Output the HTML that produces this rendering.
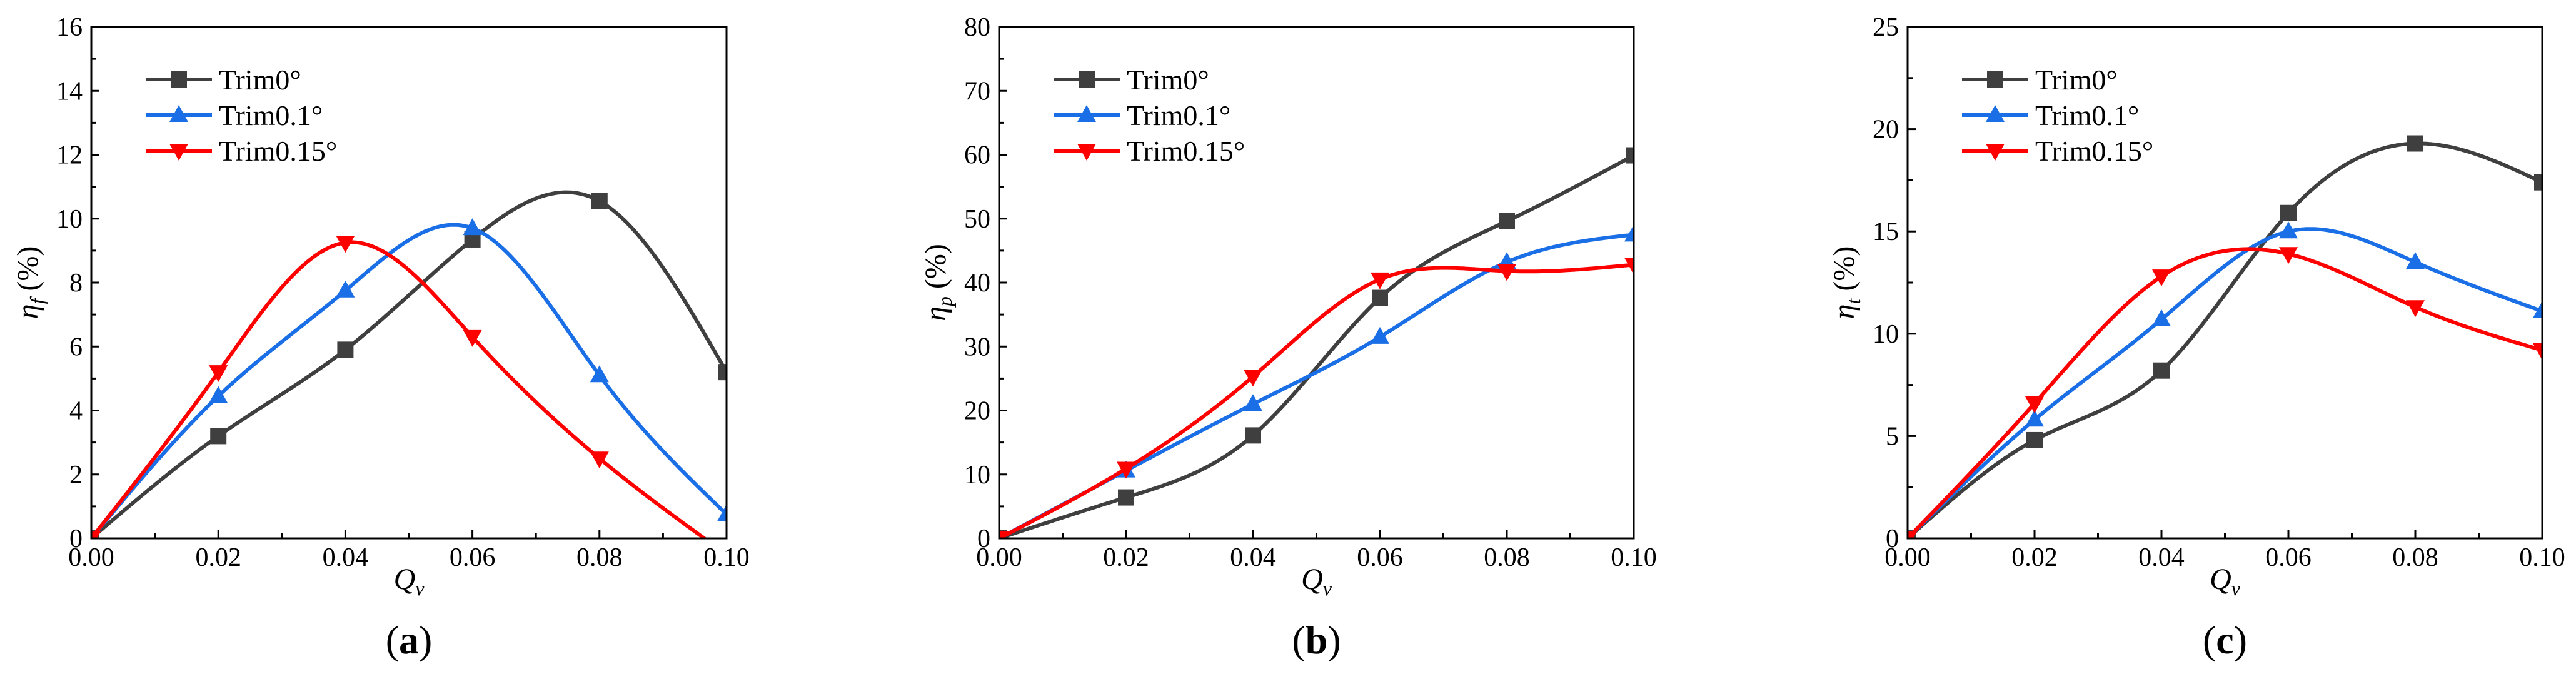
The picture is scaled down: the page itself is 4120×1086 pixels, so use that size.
<!DOCTYPE html>
<html><head><meta charset="utf-8"><style>
html,body{margin:0;padding:0;background:#fff;}
svg, svg text{font-family:"Liberation Serif","Times New Roman",serif;}
</style></head><body>
<svg id="chart" width="4120" height="1081" viewBox="0 0 4120 1081" xmlns="http://www.w3.org/2000/svg" font-family="Liberation Serif, serif"></svg>
<script>
const xCats = [0, 0.02, 0.04, 0.06, 0.08, 0.10];
const xTicks = ["0.00","0.02","0.04","0.06","0.08","0.10"];
const seriesNames = ["Trim0°","Trim0.1°","Trim0.15°"];
const aTrim0 = [0, 3.2, 5.9, 9.35, 10.55, 5.2];
const aTrim01 = [0, 4.45, 7.75, 9.7, 5.1, 0.75];
const aTrim015 = [0, 5.2, 9.25, 6.3, 2.5, -0.5];
const bTrim0 = [0, 6.4, 16.1, 37.6, 49.6, 59.9];
const bTrim01 = [0, 10.6, 21.0, 31.5, 43.2, 47.5];
const bTrim015 = [0, 10.9, 25.3, 40.5, 41.8, 42.8];
const cTrim0 = [0, 4.8, 8.2, 15.9, 19.3, 17.4];
const cTrim01 = [0, 5.8, 10.7, 15.0, 13.5, 11.1];
const cTrim015 = [0, 6.6, 12.8, 13.9, 11.3, 9.2];
const aYTicks = [0,2,4,6,8,10,12,14,16];
const bYTicks = [0,10,20,30,40,50,60,70,80];
const cYTicks = [0,5,10,15,20,25];

const NS="http://www.w3.org/2000/svg";
const svg=document.getElementById('chart');
const colors=["#3f3f3f","#1a6fe6","#ff0000"];
const markers=["square","up","down"];
const FF="Liberation Serif, serif";
function mk(tag,attrs,parent){const e=document.createElementNS(NS,tag);for(const k in attrs)e.setAttribute(k,attrs[k]);if(tag==='text')e.setAttribute('font-family',FF);(parent||svg).appendChild(e);return e;}

function spline(xs,ys){
  const n=xs.length,h=[],al=[],l=[1],mu=[0],z=[0],c=new Array(n).fill(0),b=[],d=[];
  for(let i=0;i<n-1;i++)h.push(xs[i+1]-xs[i]);
  for(let i=1;i<n-1;i++)al[i]=3/h[i]*(ys[i+1]-ys[i])-3/h[i-1]*(ys[i]-ys[i-1]);
  for(let i=1;i<n-1;i++){l[i]=2*(xs[i+1]-xs[i-1])-h[i-1]*mu[i-1];mu[i]=h[i]/l[i];z[i]=(al[i]-h[i-1]*z[i-1])/l[i];}
  l[n-1]=1;z[n-1]=0;c[n-1]=0;
  for(let j=n-2;j>=0;j--){c[j]=z[j]-mu[j]*c[j+1];b[j]=(ys[j+1]-ys[j])/h[j]-h[j]*(c[j+1]+2*c[j])/3;d[j]=(c[j+1]-c[j])/(3*h[j]);}
  return t=>{let i=Math.min(n-2,Math.max(0,xs.findIndex((v,k)=>k<n-1&&t>=v&&t<=xs[k+1])));const dx=t-xs[i];return ys[i]+b[i]*dx+c[i]*dx*dx+d[i]*dx*dx*dx;};
}

function panel(id,L,R,ymax,yTicks,data,sub,label){
  const T=43,B=861;
  const g=mk('g',{});
  
  
  const X=v=>L+(v-0)/(0.1)*(R-L);
  const Y=v=>B-v/ymax*(B-T);
  const cp=mk('clipPath',{id:'clip'+id},g);
  mk('rect',{x:L,y:T,width:R-L,height:B-T},cp);
  data.forEach((ys,si)=>{
    const f=spline(xCats,ys);let d='';
    for(let k=0;k<=400;k++){const t=0.1*k/400;d+=(k?'L':'M')+X(t).toFixed(1)+','+Y(f(t)).toFixed(1);}
    const p=mk('path',{d:d,fill:'none',stroke:colors[si],'stroke-width':6,'clip-path':'url(#clip'+id+')'},g);
    
    
    ys.forEach((v,i)=>{
      const m=drawMarker(g,markers[si],X(xCats[i]),Y(v),colors[si]);
      m.setAttribute('clip-path','url(#clip'+id+')');
      
      
    });
  });
  const fr=mk('rect',{x:L,y:T,width:R-L,height:B-T,fill:'none',stroke:'#000','stroke-width':3},g);
  
  
  for(let k=0;k<=10;k++){const x=X(0.01*k);mk('line',{x1:x,x2:x,y1:B,y2:B-(k%2?8:13),stroke:'#000','stroke-width':3},g);}
  xTicks.forEach((t,i)=>{const e=mk('text',{x:X(xCats[i]),y:B+44,'font-size':42,'text-anchor':'middle',fill:'#000'},g);e.textContent=t;
    });
  const step=yTicks[1]-yTicks[0];
  for(let v=0;v<=ymax+1e-9;v+=step/2){const y=Y(v);const maj=Math.abs(v/step-Math.round(v/step))<1e-6;mk('line',{x1:L,x2:L+(maj?13:8),y1:y,y2:y,stroke:'#000','stroke-width':3},g);}
  yTicks.forEach(v=>{const e=mk('text',{x:L-14,y:Y(v)+14,'font-size':42,'text-anchor':'end',fill:'#000'},g);e.textContent=v;
    });
  const xt=mk('text',{x:(L+R)/2,y:942,'font-size':48,'font-style':'italic','text-anchor':'middle'},g);
  xt.innerHTML='Q<tspan font-size="32" dy="10">v</tspan>';
  
  const yt=mk('text',{x:0,y:0,'font-size':48,'text-anchor':'middle',transform:'translate('+(L-86)+',452) rotate(-90)'},g);
  yt.innerHTML='<tspan font-style="italic">η</tspan><tspan font-style="italic" font-size="32" dy="10">'+sub+'</tspan><tspan dy="-10"> (%)</tspan>';
  
  seriesNames.forEach((n,i)=>{
    const y=T+84+i*57;const lx=L+87;
    const lg=mk('g',{},g);
    
    
    mk('line',{x1:lx,x2:lx+106,y1:y,y2:y,stroke:colors[i],'stroke-width':6},lg);
    drawMarker(lg,markers[i],lx+53,y,colors[i]);
    const t=mk('text',{x:L+204,y:y+16,'font-size':46},lg);t.textContent=n;
  });
  const pl=mk('text',{x:(L+R)/2,y:1045,'font-size':64,'text-anchor':'middle'},g);
  pl.innerHTML='(<tspan font-weight="bold">'+label+'</tspan>)';
  
}
function drawMarker(g,type,x,y,c){
  if(type==='square')return mk('rect',{x:x-13,y:y-13,width:26,height:26,fill:c},g);
  if(type==='up')return mk('path',{d:`M${x},${y-16}L${x+15},${y+11}L${x-15},${y+11}Z`,fill:c},g);
  return mk('path',{d:`M${x},${y+16}L${x+15},${y-11}L${x-15},${y-11}Z`,fill:c},g);
}
panel('a',146,1162,16,aYTicks,[aTrim0,aTrim01,aTrim015],'f','a');
panel('b',1598,2613,80,bYTicks,[bTrim0,bTrim01,bTrim015],'p','b');
panel('c',3051,4066,25,cYTicks,[cTrim0,cTrim01,cTrim015],'t','c');
</script>
</body></html>
